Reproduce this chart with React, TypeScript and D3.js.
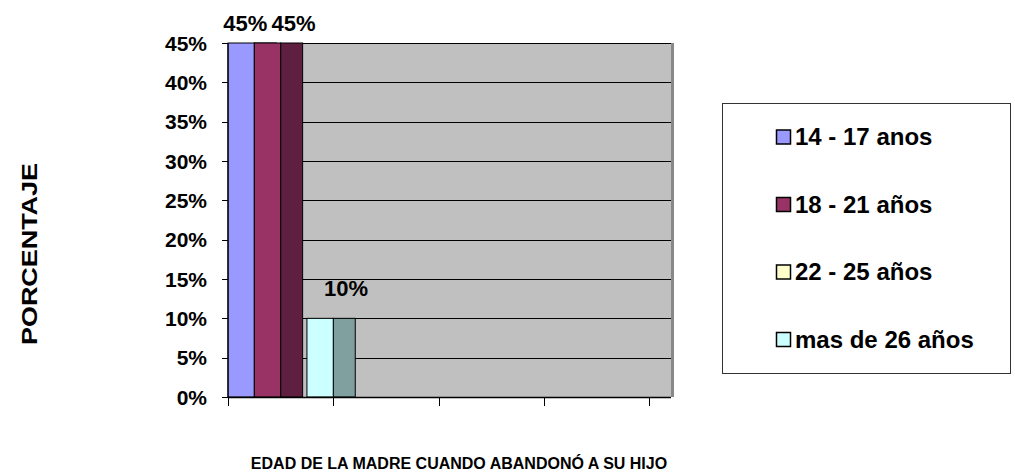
import React from "react";
import * as d3 from "d3";

const seriesNames = ["14 - 17 anos", "18 - 21 años", "22 - 25 años", "mas de 26 años"];
const seriesValues = [0.45, 0.45, 0, 0.1];
const seriesLabels = ["45%", "45%", "", "10%"];
const frontColors = ["#9999FF", "#993366", "#FFFFCC", "#CCFFFF"];
const sideColors = ["#6666B0", "#5F1F40", "#B0B08C", "#80A0A0"];
const categorySlots = ["A", "B", "C", "D"];
const barCategory = "A";
const yTickValues = [0, 0.05, 0.1, 0.15, 0.2, 0.25, 0.3, 0.35, 0.4, 0.45];
const yTitle = "PORCENTAJE";
const xTitle = "EDAD DE LA MADRE CUANDO ABANDONÓ A SU HIJO";

const W = 1015;
const H = 473;
const FONT = "'Liberation Sans', Arial, sans-serif";

export default function App() {
  const left = 228;
  const right = 649;
  const depth = 22;
  const top = 43;
  const bottom = 397;

  const x = d3.scaleBand<string>().domain(categorySlots).range([left, right]).padding(0);
  const sub = d3
    .scaleBand<string>()
    .domain(seriesNames)
    .range([0, x.bandwidth()])
    .padding(0);
  const y = d3.scaleLinear().domain([0, 0.45]).range([bottom, top]);
  const fmt = d3.format(".0%");

  const labelFont = 22;
  const labelW = labelFont * 2.05;
  // label positions with simple collision avoidance
  const labels = seriesNames
    .map((s, i) => ({
      text: seriesLabels[i],
      cx: (x(barCategory) as number) + (sub(s) as number) + sub.bandwidth() / 2 + depth + 4,
      by: Math.max(y(seriesValues[i]) - 22, 31),
    }))
    .filter((d) => d.text !== "");
  for (let i = labels.length - 2; i >= 0; i--) {
    const a = labels[i];
    const b = labels[i + 1];
    if (Math.abs(a.by - b.by) < labelFont && a.cx + labelW / 2 > b.cx - labelW / 2 - 3) {
      a.cx = b.cx - labelW - 3;
    }
  }

  const legendX = 722;
  const legendY = 103;
  const legendW = 288;
  const legendH = 270;
  const itemStep = 67.5;

  return (
    <svg
      width={W}
      height={H}
      style={{ position: "absolute", left: 0, top: 0, background: "#fff" }}
      fontFamily={FONT}
      fontWeight="bold"
    >
      {/* plot wall */}
      <rect x={left} y={top} width={right + depth + 3 - left} height={bottom - top} fill="#C0C0C0" />
      <line x1={right + depth + 1.5} x2={right + depth + 1.5} y1={top} y2={bottom} stroke="#888" strokeWidth={3} />
      {/* gridlines */}
      {yTickValues.map((t) => (
        <line
          key={"g" + t}
          x1={left}
          x2={right + depth}
          y1={Math.round(y(t)) + 0.5}
          y2={Math.round(y(t)) + 0.5}
          stroke="#000"
          strokeWidth={1.2}
        />
      ))}
      {/* bars */}
      {seriesNames.map((s, i) => {
        const x0 = (x(barCategory) as number) + (sub(s) as number);
        const bw = sub.bandwidth();
        const y0 = y(seriesValues[i]);
        const h = bottom - y0;
        if (h <= 0) return null;
        return (
          <g key={s}>
            <rect x={x0 + bw} y={y0} width={depth} height={h} fill={sideColors[i]} stroke="#000" strokeWidth={1} />
            <rect x={x0} y={y0} width={bw} height={h} fill={frontColors[i]} stroke="#000" strokeWidth={1} />
          </g>
        );
      })}
      {/* axes */}
      <line x1={left} x2={left} y1={top} y2={bottom} stroke="#000" strokeWidth={1.2} />
      <line x1={left} x2={right + depth} y1={bottom + 0.5} y2={bottom + 0.5} stroke="#000" strokeWidth={1.5} />
      {yTickValues.map((t) => (
        <g key={"t" + t}>
          <line x1={left - 6} x2={left} y1={Math.round(y(t)) + 0.5} y2={Math.round(y(t)) + 0.5} stroke="#000" />
          <text x={207} y={y(t) + 7.5} textAnchor="end" fontSize={21} fill="#000">
            {fmt(t)}
          </text>
        </g>
      ))}
      {[...categorySlots.map((c) => x(c) as number), right].map((tx, i) => (
        <line key={"xt" + i} x1={Math.round(tx) + 0.5} x2={Math.round(tx) + 0.5} y1={bottom} y2={bottom + 9} stroke="#000" />
      ))}
      {/* data labels */}
      {labels.map((l, i) => (
        <text key={"l" + i} x={l.cx} y={l.by} textAnchor="middle" fontSize={labelFont} fill="#000">
          {l.text}
        </text>
      ))}
      {/* titles */}
      <text
        transform={`translate(37, 254) rotate(-90)`}
        textAnchor="middle"
        fontSize={22}
        textLength={182}
        lengthAdjust="spacingAndGlyphs"
        fill="#000"
      >
        {yTitle}
      </text>
      <text x={459} y={469} textAnchor="middle" fontSize={16} fill="#000">
        {xTitle}
      </text>
      {/* legend */}
      <rect x={legendX + 0.5} y={legendY + 0.5} width={legendW} height={legendH} fill="#fff" stroke="#333" strokeWidth={1} />
      {seriesNames.map((s, i) => {
        const cy = legendY + 34 + i * itemStep;
        return (
          <g key={"lg" + s}>
            <rect x={776.5} y={cy - 7} width={14} height={14} fill={frontColors[i]} stroke="#000" strokeWidth={1.5} />
            <text x={795} y={cy + 8} fontSize={24} fill="#000">
              {s}
            </text>
          </g>
        );
      })}
    </svg>
  );
}
